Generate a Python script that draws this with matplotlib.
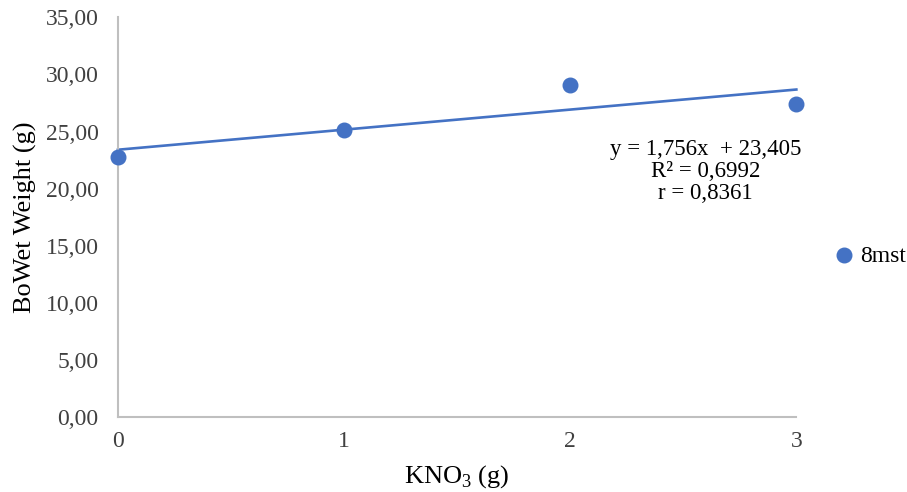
import numpy as np
import matplotlib
matplotlib.use('Agg')
import matplotlib.pyplot as plt

plt.rcParams['font.family'] = ['Liberation Serif', 'DejaVu Serif']
plt.rcParams['mathtext.fontset'] = 'custom'
plt.rcParams['mathtext.rm'] = 'Liberation Serif'

# data
kno3 = [0, 1, 2, 3]
wet_weight = [22.75, 25.1, 29.05, 27.4]
slope = 1.756
intercept = 23.405
y_ticks = [0, 5, 10, 15, 20, 25, 30, 35]
y_tick_labels = ['0,00', '5,00', '10,00', '15,00', '20,00', '25,00', '30,00', '35,00']

blue = '#4472C4'
grey = '#BFBFBF'

fig = plt.figure(figsize=(9.07, 4.92), dpi=100)
ax = fig.add_axes([0.130, 0.152, 0.748, 0.813])

ax.scatter(kno3, wet_weight, s=110, color=blue, zorder=3, clip_on=False)
xs = np.array([kno3[0], kno3[-1]])
ax.plot(xs, slope * xs + intercept, color=blue, lw=1.9, zorder=2, clip_on=False)

ax.set_xlim(0, 3)
ax.set_ylim(0, 35)
ax.set_xticks(kno3)
ax.set_xticklabels([str(k) for k in kno3])
ax.set_yticks(y_ticks)
ax.set_yticklabels(y_tick_labels)
ax.tick_params(axis='both', length=0, labelsize=17, colors='#404040')
ax.tick_params(axis='y', pad=14)
ax.tick_params(axis='x', pad=10)
for s in ['top', 'right']:
    ax.spines[s].set_visible(False)
for s in ['left', 'bottom']:
    ax.spines[s].set_color(grey)
    ax.spines[s].set_linewidth(1.5)

ax.set_xlabel('KNO$_\\mathrm{3}$ (g)', fontsize=19, labelpad=8)
ax.set_ylabel('BoWet Weight (g)', fontsize=19, labelpad=6)

ax.text(2.597, 21.5, 'y = 1,756x  + 23,405\nR² = 0,6992\nr = 0,8361',
        ha='center', va='center', fontsize=16.5, linespacing=1.05)

h = ax.scatter([], [], s=110, color=blue)
fig.legend([h], ['8mst'], loc='center right', bbox_to_anchor=(0.999, 0.48),
           frameon=False, fontsize=17, handlelength=0.8, handletextpad=0.3,
           borderaxespad=0, borderpad=0)

fig.savefig('out.png', dpi=100)
